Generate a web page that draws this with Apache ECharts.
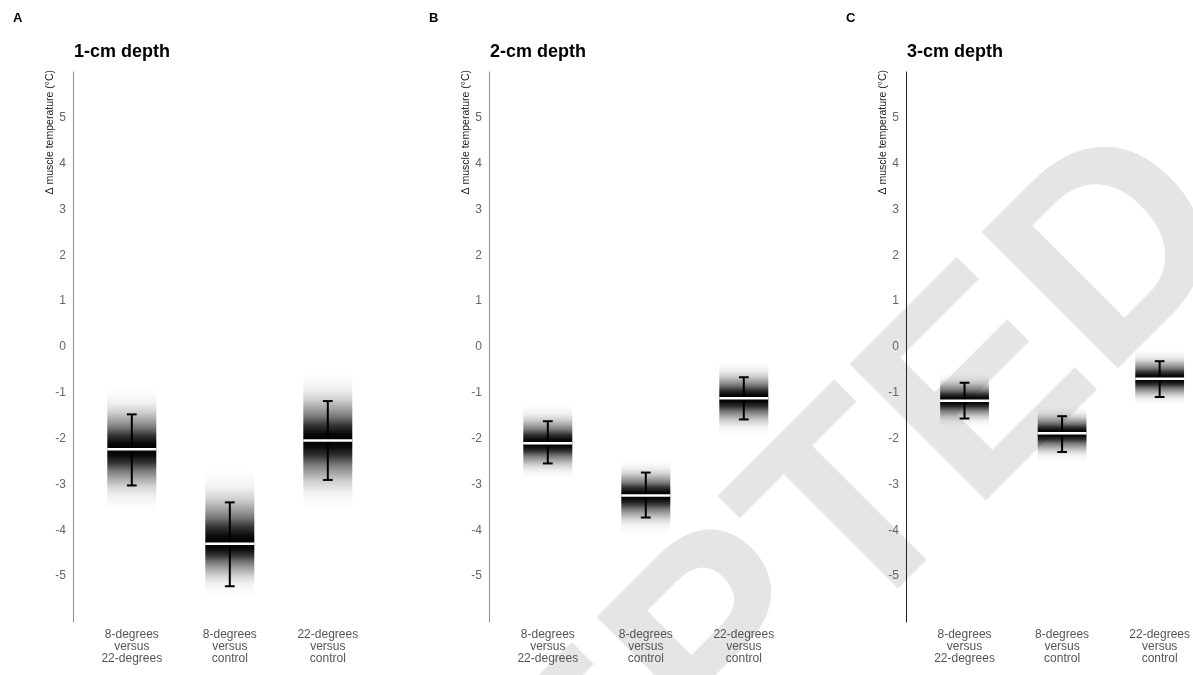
<!DOCTYPE html>
<html><head><meta charset="utf-8">
<script src="https://cdn.jsdelivr.net/npm/echarts@6/dist/echarts.min.js"></script>
<style>html,body{margin:0;padding:0;background:#fff}#c{width:1193px;height:675px}</style>
</head><body><div id="c"></div>
<script>
// ---------- data ----------
const categories = ['8-degrees\nversus\n22-degrees', '8-degrees\nversus\ncontrol', '22-degrees\nversus\ncontrol'];
const panelLetters = ['A', 'B', 'C'];
const panelTitles = ['1-cm depth', '2-cm depth', '3-cm depth'];
const yAxisName = 'Δ muscle temperature (°C)';

// 1-cm depth
const median1   = [-2.23, -4.29, -2.04];
const ciLow1    = [-3.02, -5.22, -2.90];
const ciHigh1   = [-1.47, -3.39, -1.18];
const gradLow1  = [-3.57, -5.45, -3.54];
const gradHigh1 = [-0.88, -2.67, -0.55];
// 2-cm depth
const median2   = [-2.10, -3.24, -1.12];
const ciLow2    = [-2.54, -3.72, -1.58];
const ciHigh2   = [-1.62, -2.74, -0.66];
const gradLow2  = [-2.89, -4.08, -1.94];
const gradHigh2 = [-1.25, -2.45, -0.31];
// 3-cm depth
const median3   = [-1.17, -1.88, -0.69];
const ciLow3    = [-1.56, -2.29, -1.09];
const ciHigh3   = [-0.78, -1.51, -0.31];
const gradLow3  = [-1.76, -2.52, -1.29];
const gradHigh3 = [-0.56, -1.29, -0.05];

const watermarkText = 'ACCEPTED';

// ---------- layout / style ----------
const gridLefts = [73, 489, 906];
const gridTop = 72, gridHeight = 550, gridWidth = 284.2;
const X_MIN = 0.4, X_MAX = 3.3;
const axisColors = ['#8c8c8c', '#8c8c8c', '#222'];
const BAR_W = 0.5, CAP_W = 0.1;
const FONT = '"Liberation Sans", Arial, Helvetica, sans-serif';

const panels = [
  {median: median1, lo: ciLow1, hi: ciHigh1, gLo: gradLow1, gHi: gradHigh1},
  {median: median2, lo: ciLow2, hi: ciHigh2, gLo: gradLow2, gHi: gradHigh2},
  {median: median3, lo: ciLow3, hi: ciHigh3, gLo: gradLow3, gHi: gradHigh3}
];

const fadeStops = [[0, 0], [0.12, 0.02], [0.25, 0.06], [0.4, 0.18], [0.55, 0.38], [0.65, 0.53], [0.78, 0.8], [0.9, 0.96], [1, 1]];
const stopsUp = fadeStops.map(s => ({offset: s[0], color: 'rgba(0,0,0,' + s[1] + ')'}));
const stopsDown = fadeStops.map(s => ({offset: 1 - s[0], color: 'rgba(0,0,0,' + s[1] + ')'})).reverse();

function renderItem(params, api) {
  const x = api.value(0);
  const pMed = api.coord([x, api.value(1)]);
  const pLo = api.coord([x, api.value(2)]);
  const pHi = api.coord([x, api.value(3)]);
  const pGLo = api.coord([x, api.value(4)]);
  const pGHi = api.coord([x, api.value(5)]);
  const w = api.size([BAR_W, 0])[0];
  const cap = api.size([CAP_W, 0])[0];
  const cx = pMed[0];
  const left = cx - w / 2;
  const lineStyle = {stroke: '#000', lineWidth: 2};
  return {type: 'group', children: [
    {type: 'rect', shape: {x: left, y: pGHi[1], width: w, height: pMed[1] - pGHi[1]},
     style: {fill: {type: 'linear', x: 0, y: 0, x2: 0, y2: 1, colorStops: stopsUp}}},
    {type: 'rect', shape: {x: left, y: pMed[1], width: w, height: pGLo[1] - pMed[1]},
     style: {fill: {type: 'linear', x: 0, y: 0, x2: 0, y2: 1, colorStops: stopsDown}}},
    {type: 'line', shape: {x1: cx, y1: pHi[1], x2: cx, y2: pLo[1]}, style: lineStyle},
    {type: 'line', shape: {x1: cx - cap / 2, y1: pHi[1], x2: cx + cap / 2, y2: pHi[1]}, style: lineStyle},
    {type: 'line', shape: {x1: cx - cap / 2, y1: pLo[1], x2: cx + cap / 2, y2: pLo[1]}, style: lineStyle},
    {type: 'rect', shape: {x: left, y: pMed[1] - 1.25, width: w, height: 2.5}, style: {fill: '#fff'}}
  ]};
}

const grids = [], xAxes = [], yAxes = [], series = [], titles = [], graphics = [];

graphics.push({
  type: 'text', x: 104, y: 1273, rotation: Math.PI / 4, z: -10, silent: true,
  style: {text: watermarkText, font: 'bold 280px ' + FONT, fill: '#e5e5e5',
          align: 'left', textAlign: 'left', verticalAlign: 'middle', textVerticalAlign: 'middle'}
});

panels.forEach((p, i) => {
  grids.push({left: gridLefts[i], top: gridTop, width: gridWidth, height: gridHeight});
  xAxes.push({
    gridIndex: i, type: 'value', min: X_MIN, max: X_MAX,
    axisLine: {show: false}, axisTick: {show: false}, splitLine: {show: false},
    axisLabel: {customValues: [1, 2, 3], formatter: v => categories[Math.round(v) - 1],
      color: '#555', fontSize: 12, lineHeight: 12, margin: 7, fontFamily: FONT}
  });
  yAxes.push({
    gridIndex: i, type: 'value', min: -6, max: 6, interval: 1,
    axisLine: {show: true, lineStyle: {color: axisColors[i], width: 1}},
    axisTick: {show: false}, splitLine: {show: false},
    axisLabel: {formatter: v => (Math.abs(v) === 6 ? '' : String(v)), color: '#666', fontSize: 12, margin: 7, fontFamily: FONT}
  });
  series.push({
    type: 'custom', xAxisIndex: i, yAxisIndex: i, renderItem: renderItem,
    encode: {x: 0, y: [1, 2, 3, 4, 5]},
    data: categories.map((c, k) => [k + 1, p.median[k], p.lo[k], p.hi[k], p.gLo[k], p.gHi[k]])
  });
  titles.push({text: panelLetters[i], left: gridLefts[i] - 60, top: 12, padding: 0,
    textStyle: {fontSize: 13, fontWeight: 'bold', color: '#000', fontFamily: FONT}});
  titles.push({text: panelTitles[i], left: gridLefts[i] + 1, top: 43, padding: 0,
    textStyle: {fontSize: 18, fontWeight: 'bold', color: '#000', fontFamily: FONT}});
  graphics.push({
    type: 'text', x: gridLefts[i] - 23, y: 70, rotation: Math.PI / 2, silent: true,
    style: {text: yAxisName, font: '10.5px ' + FONT, fill: '#222',
            align: 'right', textAlign: 'right', verticalAlign: 'middle', textVerticalAlign: 'middle'}
  });
});

const chart = echarts.init(document.getElementById('c'), null, {renderer: 'canvas'});
chart.setOption({
  backgroundColor: '#fff',
  animation: false,
  title: titles,
  grid: grids,
  xAxis: xAxes,
  yAxis: yAxes,
  series: series,
  graphic: graphics
});
</script>
</body></html>
